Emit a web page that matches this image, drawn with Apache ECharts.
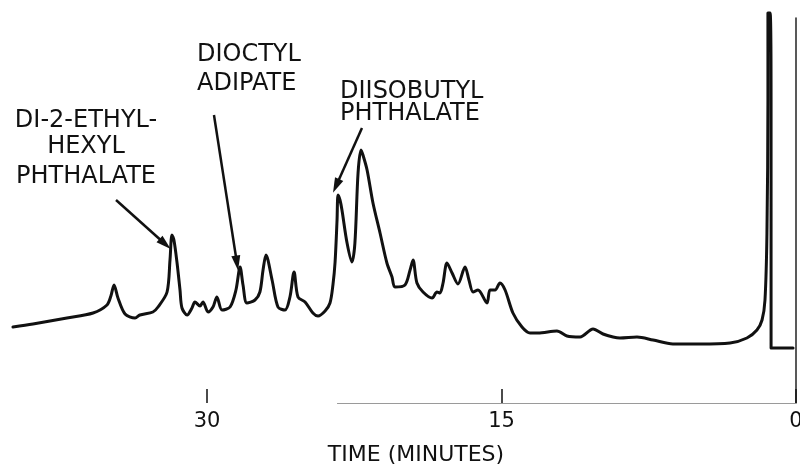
<!DOCTYPE html>
<html>
<head>
<meta charset="utf-8">
<script src="https://cdn.jsdelivr.net/npm/echarts@6/dist/echarts.min.js"></script>
<style>
  html, body { margin: 0; padding: 0; background: #fff; }
  #main { width: 800px; height: 467px; }
</style>
</head>
<body>
<div id="main"></div>
<script>
// retention time (minutes) left to right
var timeMin = [39.89, 38.87, 37.14, 35.81, 35.10, 34.90, 34.74, 34.54, 34.18, 33.67,
  33.42, 32.76, 32.50, 32.04, 31.89, 31.79, 31.69, 31.53, 31.38, 31.28,
  31.02, 30.77, 30.62, 30.36, 30.21, 29.95, 29.70, 29.50, 29.24, 28.83,
  28.53, 28.32, 28.17, 27.97, 27.56, 27.31, 27.15, 27.00, 26.69, 26.39,
  26.03, 25.78, 25.57, 25.37, 25.01, 24.61, 24.35, 23.99, 23.74, 23.59,
  23.48, 23.38, 23.33, 23.23, 23.13, 22.87, 22.62, 22.47, 22.31, 22.16,
  22.06, 21.85, 21.55, 21.19, 20.84, 20.58, 20.43, 19.92, 19.66, 19.51,
  19.31, 19.00, 18.54, 18.29, 18.14, 17.98, 17.78, 17.52, 17.22, 16.86,
  16.66, 16.45, 16.20, 15.74, 15.59, 15.33, 15.08, 14.82, 14.42, 13.96,
  13.55, 13.14, 12.18, 11.67, 11.00, 10.34, 9.83, 9.32, 8.97, 8.10,
  7.28, 6.27, 4.89, 3.36, 2.50, 1.99, 1.73, 1.58, 1.48, 1.43,
  1.43, 1.32, 1.27, 1.27, 0.97, 0.15];

// detector response (arbitrary units)
var response = [76, 79, 85, 90, 98, 107, 118, 105, 89, 85,
  88, 91, 96, 111, 143, 168, 163, 140, 113, 95,
  88, 95, 101, 97, 101, 91, 96, 106, 93, 96,
  113, 136, 118, 100, 103, 111, 133, 148, 123, 96,
  93, 106, 131, 106, 101, 90, 87, 92, 100, 118,
  141, 183, 208, 203, 193, 160, 141, 160, 230, 253,
  248, 233, 200, 170, 140, 126, 116, 118, 133, 143,
  120, 111, 105, 111, 110, 120, 140, 130, 119, 136,
  123, 111, 113, 100, 113, 113, 120, 113, 90, 76,
  70, 70, 72, 67, 66, 74, 69, 66, 65, 66,
  63, 59, 59, 60, 65, 73, 83, 103, 170, 303,
  390, 390, 303, 55, 55, 55];

var tickValues = [0, 15, 30];

// peak labels: arrow tail / head in (time, response)
var peakNames = [['DI-2-ETHYL-', 'HEXYL', 'PHTHALATE'], ['DIOCTYL', 'ADIPATE'], ['DIISOBUTYL', 'PHTHALATE']];
var arrowFrom = [[34.64, 203], [29.65, 288], [22.11, 275]];
var arrowTo = [[32.14, 159], [28.48, 140], [23.43, 217]];

var traceData = timeMin.map(function (t, i) { return [t, response[i]]; });

var arrowLines = arrowFrom.map(function (p, i) {
  return [
    { coord: p, symbol: 'none' },
    { coord: arrowTo[i], symbol: 'triangle', symbolSize: [9, 15] }
  ];
});
// faint paper baseline under the right part of the chart
arrowLines.push([
  { coord: [23.38, 0], symbol: 'none', lineStyle: { color: '#9a9a9a', width: 1 } },
  { coord: [0, 0], symbol: 'none' }
]);

var labelFont = '24px "DejaVu Sans"';
function label(text, x, y, align) {
  return {
    type: 'text', x: x, y: y,
    style: { text: text, font: labelFont, fill: '#111', align: align, verticalAlign: 'middle' }
  };
}

var myChart = echarts.init(document.getElementById('main'));
var option = {
  backgroundColor: '#fff',
  animation: false,
  grid: { left: 0, right: 4, top: 18, bottom: 64, outerBoundsMode: 'none', containLabel: false },
  xAxis: {
    type: 'value',
    inverse: true,
    min: 0,
    max: 40.55,
    name: 'TIME (MINUTES)',
    nameLocation: 'middle',
    nameGap: 41,
    nameTextStyle: { fontFamily: 'DejaVu Sans', fontSize: 22, color: '#111', padding: [0, 0, 0, 36] },
    axisLine: { show: false },
    axisTick: {
      show: true, inside: true, length: 14, customValues: tickValues,
      lineStyle: { color: '#111', width: 1.5 }
    },
    axisLabel: {
      customValues: tickValues, margin: 8,
      fontFamily: 'DejaVu Sans', fontSize: 21, color: '#111'
    },
    splitLine: { show: false }
  },
  yAxis: {
    type: 'value',
    position: 'right',
    min: 0,
    max: 385,
    axisLine: { show: true, lineStyle: { color: '#222', width: 1.5 } },
    axisTick: { show: false },
    axisLabel: { show: false },
    splitLine: { show: false }
  },
  series: [
    {
      type: 'line',
      data: traceData,
      showSymbol: false,
      symbol: 'none',
      smooth: 0.3,
      clip: false,
      lineStyle: { color: '#111', width: 3, join: 'round', cap: 'round' },
      markLine: {
        silent: true,
        animation: false,
        label: { show: false },
        lineStyle: { color: '#111', width: 2.5, type: 'solid' },
        data: arrowLines
      }
    }
  ],
  graphic: [
    label(peakNames[0][0], 86, 121, 'center'),
    label(peakNames[0][1], 86, 147, 'center'),
    label(peakNames[0][2], 86, 177, 'center'),
    label(peakNames[1][0], 197, 55, 'left'),
    label(peakNames[1][1], 197, 84, 'left'),
    label(peakNames[2][0], 340, 92, 'left'),
    label(peakNames[2][1], 340, 114, 'left')
  ]
};
myChart.setOption(option);
</script>
</body>
</html>
